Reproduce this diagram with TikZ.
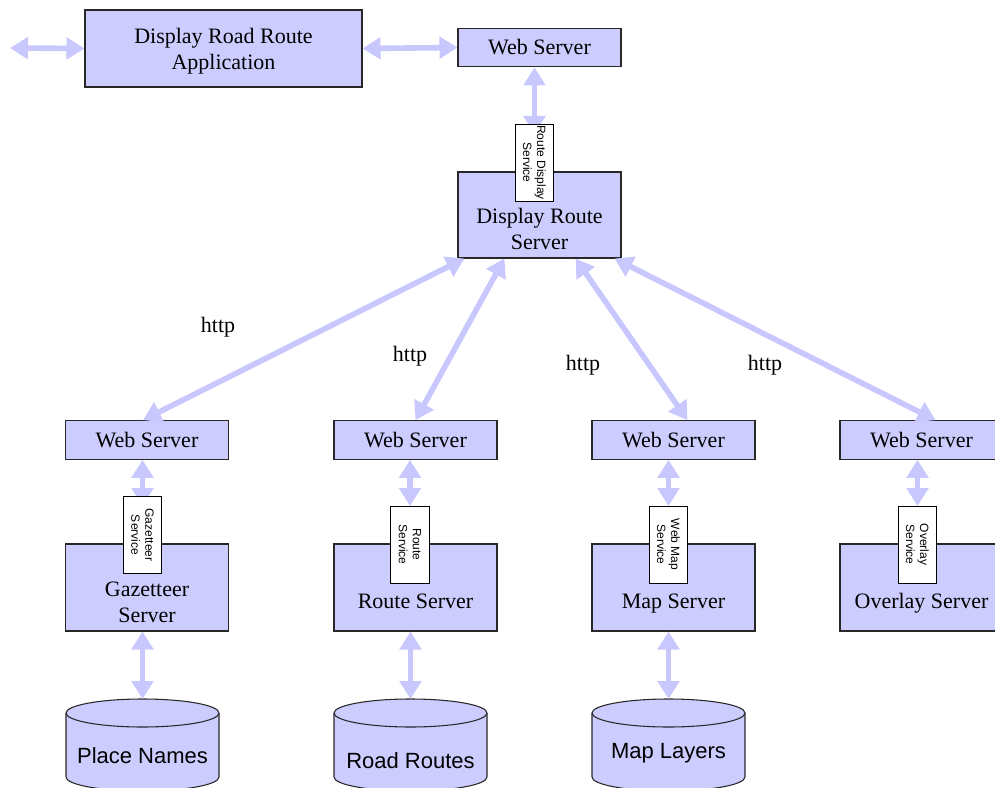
\documentclass[tikz,border=0pt]{standalone}
\usepackage{fontspec}
\setmainfont{Liberation Serif}
\newfontfamily\arialfont{Liberation Sans}
\usetikzlibrary{arrows.meta,calc}
\definecolor{lav}{RGB}{204,204,255}
\definecolor{lavarrow}{RGB}{200,200,255}
\definecolor{edge}{RGB}{40,40,40}

\begin{document}
\begin{tikzpicture}[x=0.75pt,y=-0.75pt,
  box/.style={draw=edge, fill=lav, line width=0.8pt, inner sep=0pt},
  wsbox/.style={box, minimum width=122.25pt, minimum height=29pt,
    font=\fontsize{16.5}{19.5}\selectfont},
  srvbox/.style={box, minimum width=122.25pt, minimum height=65.25pt},
  srvtext/.style={font=\fontsize{16.5}{19.5}\selectfont, align=center, inner sep=0pt},
  tag/.style={draw=black, fill=white, line width=0.6pt, inner sep=0pt,
    minimum width=57.75pt, minimum height=29pt, rotate=-90,
    font=\arialfont\fontsize{9}{10.5}\selectfont, align=center},
  link/.style={draw=lavarrow, line width=4.2pt,
    {Triangle[width=16pt,length=13.5pt]}-{Triangle[width=16pt,length=13.5pt]}},
  httplabel/.style={font=\fontsize{16.5}{19.5}\selectfont, inner sep=0pt},
  dbtext/.style={font=\arialfont\fontsize{16.5}{19.5}\selectfont, inner sep=0pt, anchor=base},
  dbshape/.style={draw=edge, fill=lav, line width=0.8pt}
]
\useasboundingbox (0,0) rectangle (995,788);

% ---- top row ----
\coordinate (outside) at (10,48);
\node[box, minimum width=207.75pt, minimum height=57.75pt] (app) at (223.5,48.5) {};
\node[srvtext] (appt) at ($(app.center)+(0,2.5)$) {Display Road Route\\Application};
\node[wsbox] (ws0) at (539.5,47.5) {Web Server};

% ---- display route server ----
\node[srvbox, minimum height=64.5pt] (drs) at (539.5,215) {};
\node[srvtext] (drst) at ($(drs.center)+(0,14)$) {Display Route\\Server};

% ---- second tier web servers ----
\node[wsbox] (ws1) at (147,440) {Web Server};
\node[wsbox] (ws2) at (415.5,440) {Web Server};
\node[wsbox] (ws3) at (673.5,440) {Web Server};
\node[wsbox] (ws4) at (921.5,440) {Web Server};

% ---- back-end servers ----
\node[srvbox] (s1) at (147,587.5) {};
\node[srvbox] (s2) at (415.5,587.5) {};
\node[srvbox] (s3) at (673.5,587.5) {};
\node[srvbox] (s4) at (921.5,587.5) {};
\node[srvtext] (s1t) at ($(s1.center)+(0,14.5)$) {Gazetteer\\Server};
\node[srvtext, anchor=base] (s2t) at ($(s2.center)+(0,21)$) {Route Server};
\node[srvtext, anchor=base] (s3t) at ($(s3.center)+(0,21)$) {Map Server};
\node[srvtext, anchor=base] (s4t) at ($(s4.center)+(0,21)$) {Overlay Server};

% ---- connector ends hidden under the service tags ----
\coordinate (end0) at (534.5,134);
\coordinate (end1) at (142.5,506);
\coordinate (end2) at (410,506);
\coordinate (end3) at (668.5,506);
\coordinate (end4) at (917.5,506);

% ---- vertical service links (drawn first, tags cover their lower tips) ----
\draw[link] (end0 |- ws0.south) -- (end0);
\draw[link] (end1 |- ws1.south) -- (end1);
\draw[link] (end2 |- ws2.south) -- (end2);
\draw[link] (end3 |- ws3.south) -- (end3);
\draw[link] (end4 |- ws4.south) -- (end4);

% ---- service tags ----
\node[tag] (tag0) at (534.5,162.5) {Route Display\\Service};
\node[tag] (tag1) at (142.5,535) {Gazetteer\\Service};
\node[tag] (tag2) at (410,544.5) {Route\\Service};
\node[tag] (tag3) at (668.5,544.5) {Web Map\\Service};
\node[tag] (tag4) at (917.5,544.5) {Overlay\\Service};

% ---- data stores ----
\foreach \name/\cx in {db1/142.5, db2/410.5, db3/668.5}{
  \fill[lav] (\cx-76.5,713) -- (\cx-76.5,777)
    arc[start angle=180, end angle=0, x radius=76.5, y radius=14]
    -- (\cx+76.5,713) -- cycle;
  \draw[edge, line width=0.8pt] (\cx-76.5,713) -- (\cx-76.5,777)
    arc[start angle=180, end angle=0, x radius=76.5, y radius=14]
    -- (\cx+76.5,713);
  \draw[dbshape] (\cx,713) ellipse [x radius=76.5, y radius=14];
  \coordinate (\name) at (\cx,699);
}
\node[dbtext] (db1t) at (142.5,763) {Place Names};
\node[dbtext] (db2t) at (410.5,768) {Road Routes};
\node[dbtext] (db3t) at (668.5,758) {Map Layers};

% ---- connectors ----
\draw[link] (outside) -- (app.west);
\draw[link] (app.east) -- (ws0.west);

\draw[link] ($(drs.south west)+(7,0)$) -- ($(ws1.north)+(-4,0)$);
\draw[link] ($(drs.south west)+(47,0)$) -- ($(ws2.north)+(0,0)$);
\draw[link] ($(drs.south east)+(-46,0)$) -- ($(ws3.north)+(14,0)$);
\draw[link] ($(drs.south east)+(-7,0)$) -- ($(ws4.north)+(14,0)$);

\draw[link] (db1 |- s1.south) -- (db1);
\draw[link] (db2 |- s2.south) -- (db2);
\draw[link] (db3 |- s3.south) -- (db3);

% ---- protocol labels ----
\node[httplabel] (h1) at (218,327) {http};
\node[httplabel] (h2) at (410,356) {http};
\node[httplabel] (h3) at (583,365) {http};
\node[httplabel] (h4) at (765,365) {http};
\end{tikzpicture}
\end{document}
